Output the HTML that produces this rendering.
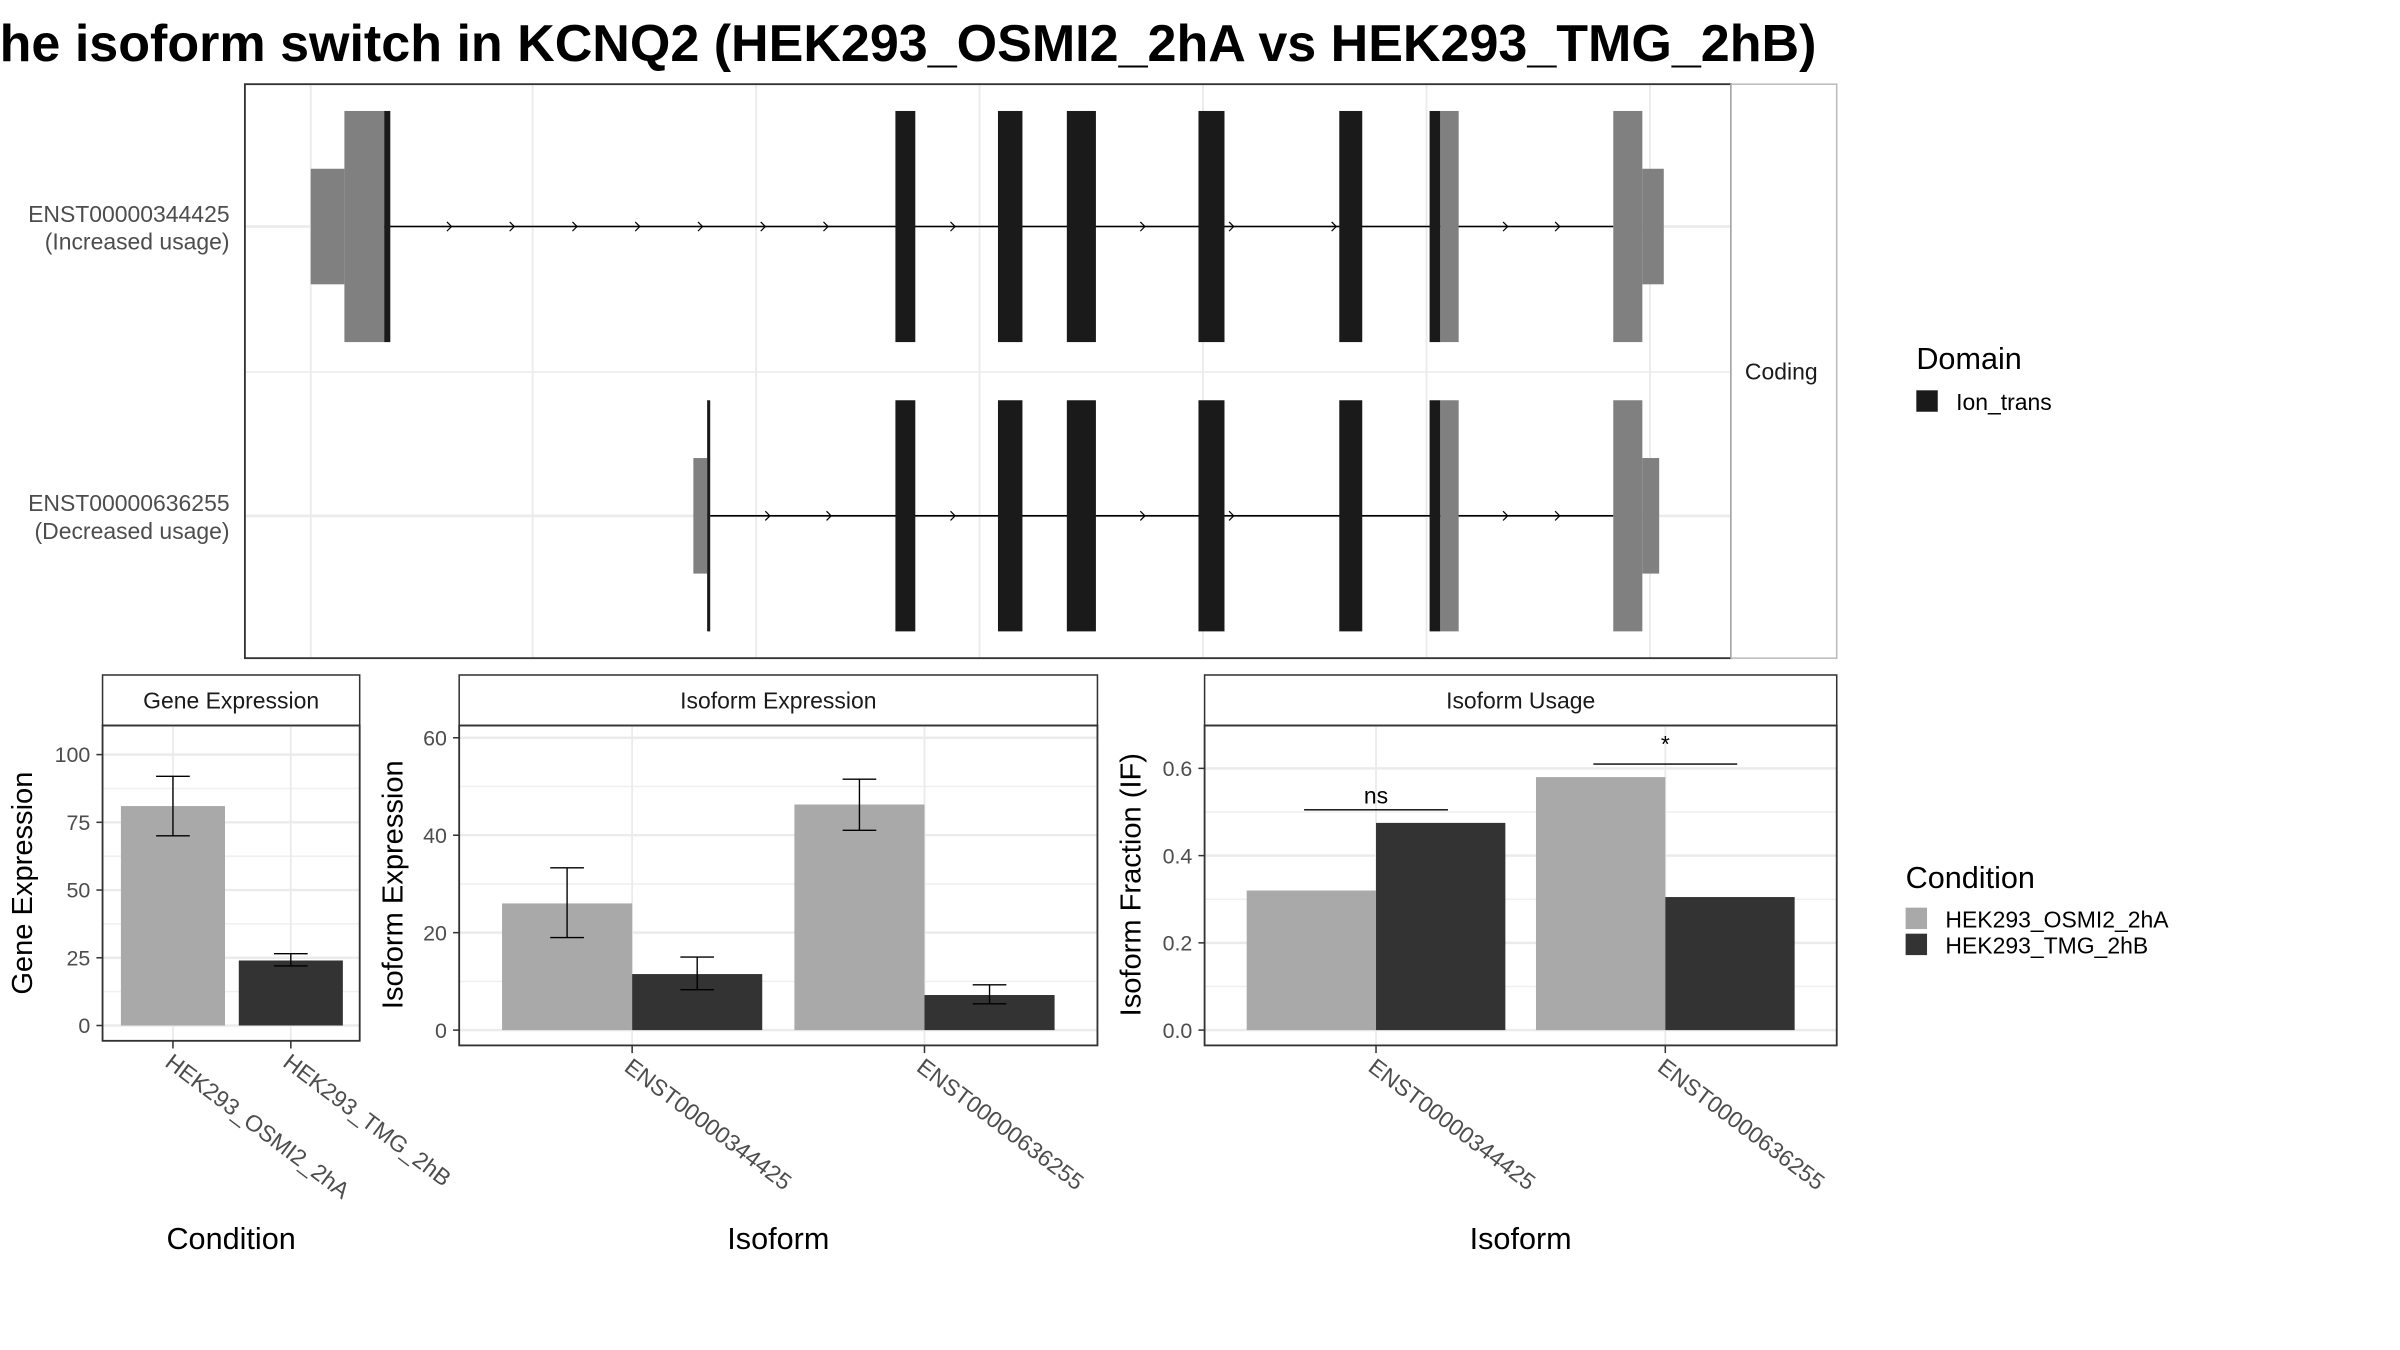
<!DOCTYPE html>
<html><head><meta charset="utf-8">
<style>
html,body{margin:0;padding:0;background:#fff;}
svg{display:block;font-family:"Liberation Sans",Arial,sans-serif;}
</style></head>
<body>
<svg id="root" width="2400" height="1350" viewBox="0 0 1568 882" xmlns="http://www.w3.org/2000/svg">
<defs><clipPath id="tclip"><rect x="0" y="0" width="1207" height="60"/></clipPath></defs>
<rect x="0" y="0" width="1568" height="882" fill="#fff"/>
<g clip-path="url(#tclip)">
<text x="-21" y="40" font-size="34" font-weight="bold" fill="#000">The isoform switch in KCNQ2 (HEK293_OSMI2_2hA vs HEK293_TMG_2hB)</text>
</g>
<g id="top"></g>
<g id="gene"></g>
<g id="isoexp"></g>
<g id="isouse"></g>
<g id="legends">
<text x="1252" y="241" font-size="20" fill="#000">Domain</text>
<rect x="1252" y="255" width="14" height="14" fill="#1a1a1a"/>
<text x="1278" y="268" font-size="15" fill="#000">Ion_trans</text>
<text x="1245" y="580" font-size="20" fill="#000">Condition</text>
<rect x="1245" y="593" width="14" height="14" fill="#a9a9a9"/>
<text x="1271" y="606" font-size="15" fill="#000">HEK293_OSMI2_2hA</text>
<rect x="1245" y="610" width="14" height="14" fill="#333"/>
<text x="1271" y="623" font-size="15" fill="#000">HEK293_TMG_2hB</text>
</g>
</svg>
<script>
// ---------- data ----------
const transcripts = ["ENST00000344425","ENST00000636255"];
const transcriptNotes = ["(Increased usage)","(Decreased usage)"];
// exon coordinates in genome-axis units (plot x units), [start,end,type,height] type: c=coding, u=utr; height: w=wide, n=narrow
const exons1 = [[203,225,"u","n"],[225,251,"u","w"],[251,255,"c","w"],[585,598,"c","w"],[652,668,"c","w"],[697,716,"c","w"],[783,800,"c","w"],[875,890,"c","w"],[934,941,"c","w"],[941,953,"u","w"],[1054,1073,"u","w"],[1073,1087,"u","n"]];
const exons2 = [[453,462,"u","n"],[462,464,"c","w"],[585,598,"c","w"],[652,668,"c","w"],[697,716,"c","w"],[783,800,"c","w"],[875,890,"c","w"],[934,941,"c","w"],[941,953,"u","w"],[1054,1073,"u","w"],[1073,1084,"u","n"]];
const arrows1 = [295,336,377,418,459,500,541,624,662,748,806,873,985,1019];
const arrows2 = [503,543,624,748,806,985,1019];

const conditions = ["HEK293_OSMI2_2hA","HEK293_TMG_2hB"];
const geneExpr = [81,24];
const geneErrLo = [70,22];
const geneErrHi = [92,26.5];
const geneTicks = [0,25,50,75,100];

const isoforms = ["ENST00000344425","ENST00000636255"];
const isoExprA = [26,46.3];
const isoExprB = [11.5,7.2];
const isoExprALo = [19,41], isoExprAHi = [33.3,51.5];
const isoExprBLo = [8.3,5.4], isoExprBHi = [15,9.3];
const isoExprTicks = [0,20,40,60];

const ifA = [0.32,0.58];
const ifB = [0.475,0.305];
const ifTicks = [0.0,0.2,0.4,0.6];
const ifTickLabels = ["0.0","0.2","0.4","0.6"];
const sigLabels = ["ns","*"];
const sigLevels = [0.505,0.61];

// ---------- helpers ----------
const NS="http://www.w3.org/2000/svg";
function mk(parent,tag,attrs,text){const e=document.createElementNS(NS,tag);for(const k in attrs)e.setAttribute(k,attrs[k]);if(text!==undefined)e.textContent=text;parent.appendChild(e);return e;}
const COLA="#a9a9a9", COLB="#333333";

// ---------- top transcript panel ----------
(function(){
 const g=document.getElementById("top");
 const px0=160,px1=1131,py0=55,py1=430;
 const bg=mk(g,"rect",{x:px0,y:py0,width:px1-px0,height:py1-py0,fill:"#fff"});
 
 
 [203,348,494,640,786,932,1078].forEach(x=>{mk(g,"line",{x1:x,x2:x,y1:py0,y2:py1,stroke:"#ebebeb","stroke-width":1.2});});
 [148,243,337].forEach(y=>{mk(g,"line",{x1:px0,x2:px1,y1:y,y2:y,stroke:"#ebebeb","stroke-width":y==243?1:1.8});});
 const rows=[[148,exons1,arrows1],[337,exons2,arrows2]];
 rows.forEach((r,i)=>{
  const [cy,ex,ar]=r;
  const tg=mk(g,"g",{});
  
  
  const xs=ex.map(e=>e[0]), xe=ex.map(e=>e[1]);
  const first=ex.find(e=>e[3]=="w"), last=[...ex].reverse().find(e=>e[3]=="w");
  mk(tg,"line",{x1:first[1],x2:last[0],y1:cy,y2:cy,stroke:"#000","stroke-width":1});
  ar.forEach(a=>{const p=mk(tg,"path",{d:`M${a-3},${cy-3} L${a},${cy} L${a-3},${cy+3}`,fill:"none",stroke:"#000","stroke-width":0.8});
   
   });
  ex.forEach(e=>{
   const h=e[3]=="w"?151:75.5;
   const r=mk(tg,"rect",{x:e[0],y:cy-h/2,width:e[1]-e[0],height:h,fill:e[2]=="c"?"#1a1a1a":"#808080"});
   
   
  });
  const l1=mk(g,"text",{x:150,y:cy-3,"text-anchor":"end","font-size":15,fill:"#4d4d4d"},transcripts[i]);
  
  
  const l2=mk(g,"text",{x:150,y:cy+15,"text-anchor":"end","font-size":15,fill:"#4d4d4d"},transcriptNotes[i]);
  
  
 });
 mk(g,"rect",{x:px0,y:py0,width:px1-px0,height:py1-py0,fill:"none",stroke:"#333","stroke-width":1.2});
 const st=mk(g,"rect",{x:px1,y:py0,width:69,height:py1-py0,fill:"#fff",stroke:"#bbb","stroke-width":1});
 
 
 const ct=mk(g,"text",{x:1140,y:248,"font-size":15,fill:"#1a1a1a"},"Coding");
 
 
})();

// ---------- generic bar panel ----------
function panel(gid,opt){
 const g=document.getElementById(gid);
 const {x0,x1,y0,y1,vmin,vmax,ymin,ymax}=opt;
 const ys=v=>y0-(v-vmin)/(vmax-vmin)*(y0-y1);
 // strip
 const s=mk(g,"rect",{x:x0,y:441,width:x1-x0,height:33,fill:"#fff",stroke:"#333","stroke-width":1});
 
 
 const st=mk(g,"text",{x:(x0+x1)/2,y:463,"text-anchor":"middle","font-size":15,fill:"#1a1a1a"},opt.title);
 
 
 // grid
 opt.ticks.forEach((t,i)=>{
  if(i<opt.ticks.length-1){const m=(t+opt.ticks[i+1])/2;mk(g,"line",{x1:x0,x2:x1,y1:ys(m),y2:ys(m),stroke:"#f0f0f0","stroke-width":1});}
 });
 opt.ticks.forEach((t,i)=>{
  const y=ys(t);
  mk(g,"line",{x1:x0,x2:x1,y1:y,y2:y,stroke:"#ebebeb","stroke-width":1.6});
  mk(g,"line",{x1:x0-4,x2:x0,y1:y,y2:y,stroke:"#333","stroke-width":1});
  const tl=mk(g,"text",{x:x0-8,y:y+5,"text-anchor":"end","font-size":14,fill:"#4d4d4d"},opt.tickLabels?opt.tickLabels[i]:String(t));
  
  
 });
 opt.centers.forEach(c=>mk(g,"line",{x1:c,x2:c,y1:ymin,y2:y0+10,stroke:"#ebebeb","stroke-width":1.2}));
 return {g,ys};
}
function bar(g,ys,x,w,v,fill,name){
 const r=mk(g,"rect",{x:x,y:ys(v),width:w,height:ys(0)-ys(v),fill:fill});
 
 
}
function err(g,ys,cx,lo,hi){
 const e=mk(g,"path",{d:`M${cx-11},${ys(hi)}H${cx+11}M${cx},${ys(hi)}V${ys(lo)}M${cx-11},${ys(lo)}H${cx+11}`,stroke:"#000","stroke-width":0.9,fill:"none"});
 
 
}
function frame(g,opt){
 mk(g,"rect",{x:opt.x0,y:474,width:opt.x1-opt.x0,height:opt.yb-474,fill:"none",stroke:"#333","stroke-width":1.2});
 opt.centers.forEach((c,i)=>{
  mk(g,"line",{x1:c,x2:c,y1:opt.yb,y2:opt.yb+5,stroke:"#333","stroke-width":1});
  const t=mk(g,"text",{x:c-6,y:opt.yb+16,"font-size":15,fill:"#4d4d4d",transform:`rotate(37 ${c-6} ${opt.yb+16})`},opt.cats[i]);
  
  
 });
 const yt=mk(g,"text",{x:opt.ytx,y:opt.yty,"text-anchor":"middle","font-size":19,fill:"#000",transform:`rotate(-90 ${opt.ytx} ${opt.yty})`},opt.ytitle);
 
 
 const xt=mk(g,"text",{x:(opt.x0+opt.x1)/2,y:816,"text-anchor":"middle","font-size":20,fill:"#000"},opt.xtitle);
 
 
}

// Gene expression
(function(){
 const opt={name:"gene-expression",title:"Gene Expression",x0:67,x1:235,y0:670,y1:493,vmin:0,vmax:100,ymin:474,ticks:geneTicks,centers:[113,190],yb:680,cats:conditions,ytitle:"Gene Expression",ytx:21,yty:577,xtitle:"Condition"};
 const {g,ys}=panel("gene",opt);
 const cols=[COLA,COLB];
 geneExpr.forEach((v,i)=>{bar(g,ys,opt.centers[i]-34,68,v,cols[i],'bar-gene-'+conditions[i]);err(g,ys,opt.centers[i],geneErrLo[i],geneErrHi[i]);});
 frame(g,opt);
})();

// Isoform expression
(function(){
 const opt={name:"isoform-expression",title:"Isoform Expression",x0:300,x1:717,y0:673,y1:482,vmin:0,vmax:60,ymin:474,ticks:isoExprTicks,centers:[413,604],yb:683,cats:isoforms,ytitle:"Isoform Expression",ytx:263,yty:578,xtitle:"Isoform"};
 const {g,ys}=panel("isoexp",opt);
 isoforms.forEach((iso,i)=>{
  const c=opt.centers[i];
  bar(g,ys,c-85,85,isoExprA[i],COLA,'bar-expr-osmi2-'+iso);
  bar(g,ys,c,85,isoExprB[i],COLB,'bar-expr-tmg-'+iso);
  err(g,ys,c-42.5,isoExprALo[i],isoExprAHi[i]);
  err(g,ys,c+42.5,isoExprBLo[i],isoExprBHi[i]);
 });
 frame(g,opt);
})();

// Isoform usage
(function(){
 const opt={name:"isoform-usage",title:"Isoform Usage",x0:787,x1:1200,y0:673,y1:502,vmin:0,vmax:0.6,ymin:474,ticks:ifTicks,tickLabels:ifTickLabels,centers:[899,1088],yb:683,cats:isoforms,ytitle:"Isoform Fraction (IF)",ytx:745,yty:578,xtitle:"Isoform"};
 const {g,ys}=panel("isouse",opt);
 isoforms.forEach((iso,i)=>{
  const c=opt.centers[i];
  bar(g,ys,c-84.5,84.5,ifA[i],COLA,'bar-if-osmi2-'+iso);
  bar(g,ys,c,84.5,ifB[i],COLB,'bar-if-tmg-'+iso);
  const y=ys(sigLevels[i]);
  const l=mk(g,"line",{x1:c-47,x2:c+47,y1:y,y2:y,stroke:"#000","stroke-width":0.9});
  
  
  const t=mk(g,"text",{x:c,y:y-(sigLabels[i]=="*"?-1:4)-(sigLabels[i]=="*"?9:0),"text-anchor":"middle","font-size":15,fill:"#000"},sigLabels[i]);
  
  
 });
 frame(g,opt);
})();
</script>
</body></html>
